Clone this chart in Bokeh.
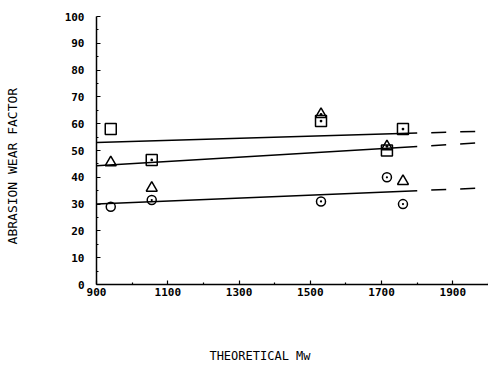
from bokeh.plotting import figure
from bokeh.models import Range1d, FixedTicker, ColumnDataSource
from bokeh.embed import file_html
from bokeh.resources import INLINE

# Theoretical molecular weight of each sample
mw = [940, 1055, 1530, 1715, 1760]

# Abrasion wear factor, one series per marker
squares = [58, 46.5, 61, 50, 58]
triangles = [45.5, 36, 63.5, 51.5, 38.5]
circles = [29, 31.5, 31, 40, 30]

# Marker styles per point (dotted markers as drawn on the plotter sheet)
square_marks = ["square", "square_dot", "square_dot", "square", "square_dot"]
triangle_marks = ["triangle", "triangle", "triangle_dot", "triangle_dot", "triangle"]
circle_marks = ["circle", "circle_dot", "circle_dot", "circle_dot", "circle_dot"]

# Least-squares fits: end points of the fitted range, then extrapolated
fit_x = [900, 1800]
square_fit = [53.0, 56.5]
triangle_fit = [44.3, 51.5]
circle_fit = [30.0, 35.0]
extrap_end = 1975

x_ticks = [900, 1100, 1300, 1500, 1700, 1900]
x_minor = [1000, 1200, 1400, 1600, 1800, 2000]
y_ticks = list(range(0, 101, 10))
y_minor = list(range(5, 100, 10))

p = figure(width=488, height=365, output_backend="svg", toolbar_location=None,
           x_range=Range1d(900, 2000), y_range=Range1d(0, 100),
           min_border_left=96, min_border_right=0, min_border_top=16,
           min_border_bottom=78)
p.outline_line_color = None
p.xgrid.visible = False
p.ygrid.visible = False
p.background_fill_color = "white"
p.border_fill_color = "white"

mono = "DejaVu Sans Mono"
for ax in (p.xaxis[0], p.yaxis[0]):
    ax.axis_line_width = 1.5
    ax.axis_line_color = "black"
    ax.major_tick_in = 4
    ax.major_tick_out = 0
    ax.minor_tick_in = 2
    ax.minor_tick_out = 0
    ax.major_tick_line_width = 1.2
    ax.minor_tick_line_width = 1.2
    ax.major_tick_line_color = "black"
    ax.minor_tick_line_color = "black"
    ax.major_label_text_font = mono
    ax.major_label_text_font_style = "bold"
    ax.major_label_text_font_size = "11px"
    ax.major_label_text_color = "black"
    ax.axis_label_text_font = mono
    ax.axis_label_text_font_style = "normal"
    ax.axis_label_text_color = "black"

p.xaxis.ticker = FixedTicker(ticks=x_ticks, minor_ticks=x_minor)
p.yaxis.ticker = FixedTicker(ticks=y_ticks, minor_ticks=y_minor)
p.xaxis.major_label_standoff = 3
p.yaxis.major_label_standoff = 12

# Non-breaking padding keeps the centred titles where the sheet has them
nb = "\u00a0"
p.xaxis.axis_label = "THEORETICAL Mw" + nb * 9
p.xaxis.axis_label_text_font_size = "12px"
p.xaxis.axis_label_standoff = 50
p.yaxis.axis_label = "ABRASION WEAR FACTOR" + nb * 4
p.yaxis.axis_label_text_font_size = "13px"
p.yaxis.axis_label_standoff = 42


def extend(fit):
    slope = (fit[1] - fit[0]) / (fit_x[1] - fit_x[0])
    return fit[1] + slope * (extrap_end - fit_x[1])


for fit in (square_fit, triangle_fit, circle_fit):
    p.line(fit_x, fit, line_color="black", line_width=1.5)
    p.line([fit_x[1], extrap_end], [fit[1], extend(fit)], line_color="black",
           line_width=1.5, line_dash="15 14", line_dash_offset=15)

src_sq = ColumnDataSource(dict(x=mw, y=squares, m=square_marks))
src_tr = ColumnDataSource(dict(x=mw, y=triangles, m=triangle_marks))
src_ci = ColumnDataSource(dict(x=mw, y=circles, m=circle_marks))

p.scatter("x", "y", source=src_sq, marker="m", size=11, fill_color=None,
          line_color="black", line_width=1.5)
p.scatter("x", "y", source=src_tr, marker="m", size=11, fill_color=None,
          line_color="black", line_width=1.5)
p.scatter("x", "y", source=src_ci, marker="m", size=9, fill_color=None,
          line_color="black", line_width=1.5)

open("out.html", "w").write(file_html(p, INLINE))
